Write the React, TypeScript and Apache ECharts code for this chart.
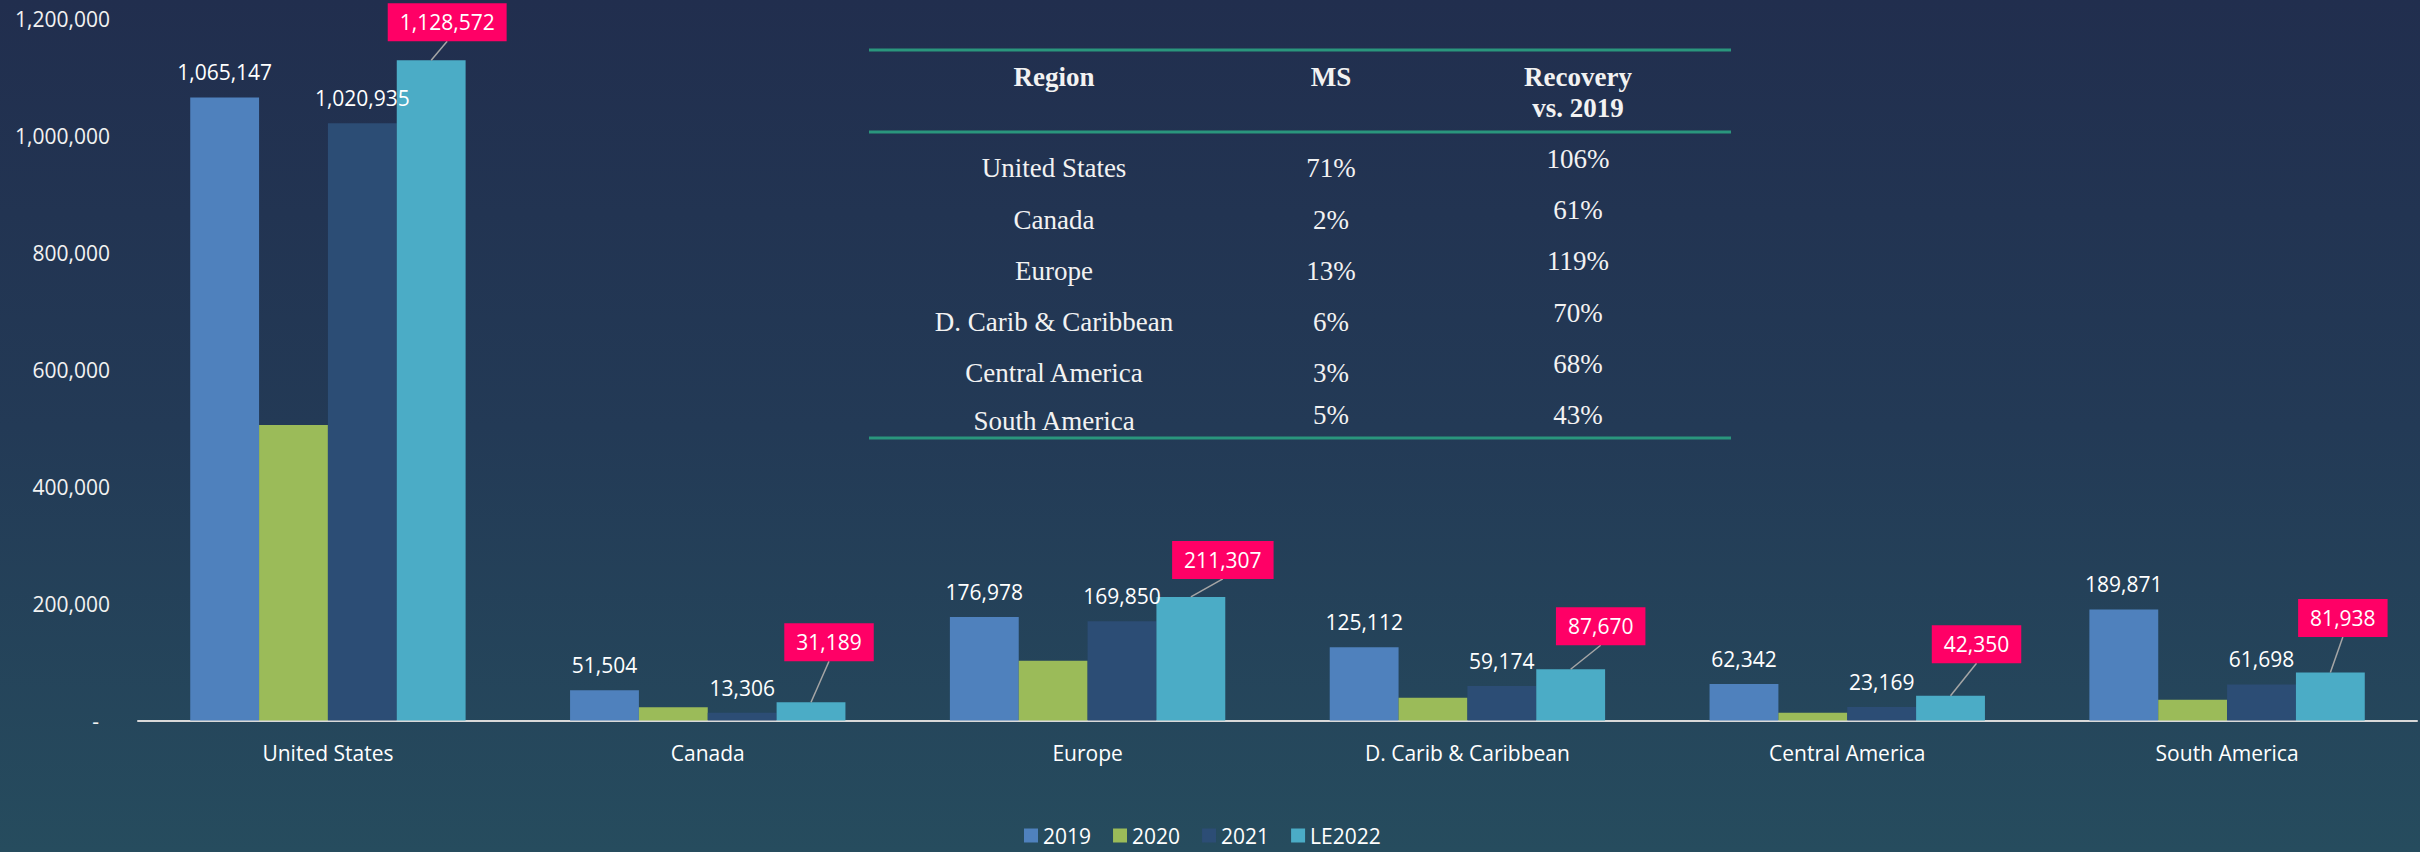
import React, { useEffect, useRef } from "react";
import * as echarts from "echarts";

// ---------- data ----------
const categories = [
  "United States",
  "Canada",
  "Europe",
  "D. Carib & Caribbean",
  "Central America",
  "South America",
];
const seriesNames = ["2019", "2020", "2021", "LE2022"];
const values2019 = [1065147, 51504, 176978, 125112, 62342, 189871];
const values2020 = [505000, 22500, 102000, 39000, 13300, 35500];
const values2021 = [1020935, 13306, 169850, 59174, 23169, 61698];
const valuesLE2022 = [1128572, 31189, 211307, 87670, 42350, 81938];
const yMin = 0;
const yMax = 1200000;
const yInterval = 200000;

const tableHeaders = ["Region", "MS", "Recovery\nvs. 2019"];
const tableRegions = [
  "United States",
  "Canada",
  "Europe",
  "D. Carib & Caribbean",
  "Central America",
  "South America",
];
const tableMS = ["71%", "2%", "13%", "6%", "3%", "5%"];
const tableRecovery = ["106%", "61%", "119%", "70%", "68%", "43%"];

// ---------- layout / style ----------
const COLORS = ["#4F81BD", "#9BBB59", "#2C4D75", "#4BACC6"];
const PINK = "#FF0066";
const BAR_CAT_GAP = 0.275;
const FONT = "'Open Sans', sans-serif";
const SERIF = "'Liberation Serif', 'DejaVu Serif', serif";
// pink label box centre offset from the LE2022 bar-top centre
const LE_LABEL_OFFSETS = [
  [16, -38],
  [18, -60],
  [32, -37],
  [30, -43],
  [26, -51.5],
  [12.5, -54.5],
];
const TABLE_X = [1054, 1331, 1578];
const TABLE_LINE_X = [869, 1731];
const TABLE_LINE_Y = [50, 132, 438];
const ROW_Y_REGION = [168, 220, 271, 322, 373, 421];
const ROW_Y_MS = [168, 220, 271, 322, 373, 415];
const ROW_Y_REC = [159, 210, 261, 313, 364, 415];

const fmt = (v: number) => Math.round(v).toLocaleString("en-US");

function buildTable(): any[] {
  const txt = "#F2F2F2";
  const els: any[] = [];
  TABLE_LINE_Y.forEach((y) => {
    els.push({
      type: "line",
      shape: { x1: TABLE_LINE_X[0], y1: y, x2: TABLE_LINE_X[1], y2: y },
      style: { stroke: "#2A967D", lineWidth: 3 },
      silent: true,
    });
  });
  const headerY = [77, 77, 92.5];
  tableHeaders.forEach((h, i) => {
    els.push({
      type: "text",
      x: TABLE_X[i],
      y: headerY[i],
      style: {
        text: h,
        fill: txt,
        fontFamily: SERIF,
        fontSize: 27,
        fontWeight: "bold",
        lineHeight: 31,
        align: "center",
        verticalAlign: "middle",
      },
      silent: true,
    });
  });
  const cols = [tableRegions, tableMS, tableRecovery];
  const rowYs = [ROW_Y_REGION, ROW_Y_MS, ROW_Y_REC];
  cols.forEach((col, c) => {
    col.forEach((t, r) => {
      els.push({
        type: "text",
        x: TABLE_X[c],
        y: rowYs[c][r],
        style: {
          text: t,
          fill: txt,
          fontFamily: SERIF,
          fontSize: 27,
          align: "center",
          verticalAlign: "middle",
        },
        silent: true,
      });
    });
  });
  return els;
}

export default function App() {
  const ref = useRef<HTMLDivElement>(null);

  useEffect(() => {
    document.body.style.margin = "0";
    if (!ref.current) return;
    const chart = echarts.init(ref.current, undefined, { renderer: "svg" });

    const labelStyle = {
      show: true,
      position: "top",
      distance: 12,
      color: "#FFFFFF",
      fontFamily: FONT,
      fontSize: 21,
      lineHeight: 26,
      formatter: (p: any) => fmt(p.value),
    };

    const seriesData = [values2019, values2020, values2021, valuesLE2022];
    const bars = seriesNames.map((name, i) => ({
      name,
      type: "bar",
      data: seriesData[i],
      barGap: "0%",
      barCategoryGap: BAR_CAT_GAP * 100 + "%",
      itemStyle: { color: COLORS[i] },
      label: i === 0 || i === 2 ? labelStyle : { show: false },
      emphasis: { disabled: true },
    }));

    const pinkLabels = {
      name: "LE2022 labels",
      type: "custom",
      coordinateSystem: "cartesian2d",
      data: valuesLE2022.map((v, i) => [i, v]),
      encode: { x: 0, y: 1 },
      z: 20,
      silent: true,
      renderItem: (params: any, api: any) => {
        const idx = api.value(0);
        const val = api.value(1);
        const pt = api.coord([idx, val]);
        const band = api.size([1, 0])[0];
        const barW = (band * (1 - BAR_CAT_GAP)) / 4;
        const bx = pt[0] + 1.5 * barW;
        const ty = pt[1];
        const off = LE_LABEL_OFFSETS[params.dataIndex];
        const lx = bx + off[0];
        const ly = ty + off[1];
        return {
          type: "group",
          children: [
            {
              type: "line",
              shape: { x1: bx, y1: ty, x2: lx, y2: ly + 19 },
              style: { stroke: "#A6A6A6", lineWidth: 1.5 },
            },
            {
              type: "text",
              x: lx,
              y: ly,
              style: {
                text: fmt(val),
                fill: "#FFFFFF",
                fontFamily: FONT,
                fontSize: 21,
                lineHeight: 22,
                align: "center",
                verticalAlign: "middle",
                backgroundColor: PINK,
                padding: [8, 12],
              },
            },
          ],
        };
      },
    };

    chart.setOption({
      animation: false,
      backgroundColor: "transparent",
      grid: { left: 138, right: 3, top: 18.5, bottom: 131.5, containLabel: false },
      legend: {
        data: seriesNames,
        left: 1024,
        top: 825,
        padding: 0,
        itemWidth: 14,
        itemHeight: 14,
        itemGap: 22,
        icon: "rect",
        textStyle: { color: "#FFFFFF", fontFamily: FONT, fontSize: 21, lineHeight: 20 },
        selectedMode: false,
      },
      xAxis: {
        type: "category",
        data: categories,
        axisLine: { lineStyle: { color: "#D9D9D9", width: 2 } },
        axisTick: { show: false },
        axisLabel: {
          color: "#FFFFFF",
          fontFamily: FONT,
          fontSize: 21,
          lineHeight: 24,
          margin: 20,
          interval: 0,
        },
      },
      yAxis: {
        type: "value",
        min: yMin,
        max: yMax,
        interval: yInterval,
        splitLine: { show: false },
        axisLine: { show: false },
        axisTick: { show: false },
        axisLabel: {
          color: "#F2F2F2",
          fontFamily: FONT,
          fontSize: 21,
          margin: 28,
          formatter: (v: number) => (v === 0 ? "-  " : fmt(v)),
        },
      },
      series: [...bars, pinkLabels],
      graphic: buildTable(),
    });

    return () => chart.dispose();
  }, []);

  return (
    <div
      ref={ref}
      style={{
        width: 2420,
        height: 852,
        background: "linear-gradient(180deg, #212E4E 0%, #233A56 50%, #264C5E 100%)",
      }}
    />
  );
}
